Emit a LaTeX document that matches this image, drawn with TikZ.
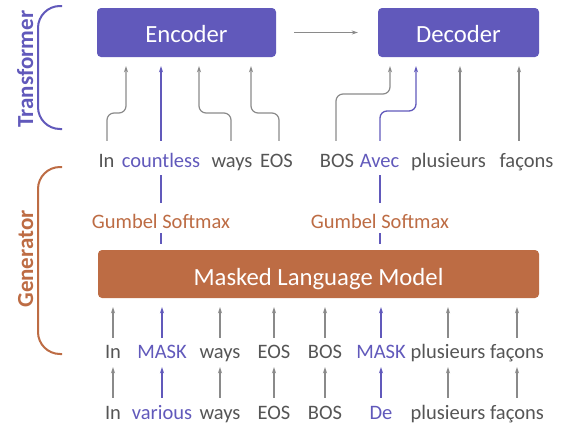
\documentclass[tikz,border=0pt]{standalone}
\usepackage{fontspec}
\setmainfont{Carlito}
\usetikzlibrary{arrows.meta}
\definecolor{purp}{RGB}{97,89,187}
\definecolor{orng}{RGB}{189,108,68}
\definecolor{lgray}{RGB}{138,138,138}
\definecolor{tgray}{RGB}{85,85,85}
\begin{document}
\begin{tikzpicture}[x=1pt,y=-1pt,
  tok/.style={anchor=base,inner sep=0pt,text height=14pt,text depth=4pt,
    font=\fontsize{20.5}{24}\selectfont,text=tgray},
  ptok/.style={tok,text=purp},
  bigbox/.style={rounded corners=4pt,inner sep=0pt,text=white,
    font=\fontsize{24.7}{28}\selectfont,text depth=0pt},
  tip/.style={-{Stealth[length=6pt,width=4pt]}},
  garr/.style={draw=lgray,line width=1.2pt,tip},
  parr/.style={draw=purp,line width=1.3pt,tip},
  pline/.style={draw=purp,line width=1.3pt},
  gum/.style={anchor=base,fill=white,inner xsep=1pt,inner ysep=0pt,
    text height=25pt,text depth=5pt,text=orng,font=\fontsize{20.5}{24}\selectfont},
  side/.style={anchor=base,rotate=90,inner sep=0pt,font=\fontsize{23}{26}\selectfont\bfseries},
  brace/.style={line width=2pt,rounded corners=22pt}
]
\useasboundingbox (0,0) rectangle (563,426);

% boxes
\node[bigbox,fill=purp,minimum width=179pt,minimum height=49pt,text height=19pt] (enc) at (186.5,32.5) {Encoder};
\node[bigbox,fill=purp,minimum width=161pt,minimum height=49pt,text height=19pt] (dec) at (458.5,32.5) {Decoder};
\node[bigbox,fill=orng,minimum width=441pt,minimum height=48pt,text height=22pt] (mlm) at (318.5,274) {Masked Language Model};

\draw[garr,shorten <=18pt,shorten >=20pt] (enc.east) -- (dec.west);

% side labels and braces
\node[side,text=purp] (tlab) at (33,69) {Transformer};
\node[side,text=orng] (glab) at (33,259) {Generator};
\draw[brace,draw=purp] (62,6) -- (38,6) -- (38,129) -- (62,129);
\draw[brace,draw=orng] (62,167) -- (38,167) -- (38,354) -- (62,354);

% top row
\node[tok] (tIn) at (106.5,167) {In};
\node[ptok] (tCo) at (161,167) {countless};
\node[tok] (tWa) at (232,167) {ways};
\node[tok] (tEo) at (276.5,167) {EOS};
\node[tok] (tBo) at (337,167) {BOS};
\node[ptok] (tAv) at (379.5,167) {Avec};
\node[tok] (tPl) at (448.5,167) {plusieurs};
\node[tok] (tFa) at (526.5,167) {façons};

% top row -> encoder / decoder
\begin{scope}[shorten >=9pt]
\draw[garr,rounded corners=7pt] (tIn.north) ++(0.5,-12) |- (126,113) -- (enc.south -| 126,0);
\draw[parr] (tCo.north) ++(0,-12) -- (enc.south -| 161,0);
\draw[garr,rounded corners=7pt] (tWa.north) ++(-1,-12) |- (199,113) -- (enc.south -| 199,0);
\draw[garr,rounded corners=7pt] (tEo.north) ++(2.5,-12) |- (251,113) -- (enc.south -| 251,0);
\draw[garr,rounded corners=7pt] (tBo.north) ++(-1,-12) |- (390,94) -- (dec.south -| 390,0);
\draw[parr,rounded corners=7pt] (tAv.north) ++(0.5,-12) |- (416,111) -- (dec.south -| 416,0);
\draw[garr] (tPl.north) ++(11.5,-12) -- (dec.south -| 460,0);
\draw[garr] (tFa.north) ++(-7.5,-12) -- (dec.south -| 519,0);
\end{scope}

% gumbel softmax
\draw[pline,shorten <=6pt,shorten >=4pt] (mlm.north -| tCo.south) -- (tCo.south);
\draw[pline,shorten <=6pt,shorten >=4pt] (mlm.north -| 380,0) -- (380,171);
\node[gum] (g1) at (161,228) {Gumbel Softmax};
\node[gum] (g2) at (380,228) {Gumbel Softmax};

% row 2
\node[tok] (mIn) at (113,358) {In};
\node[ptok] (mMa) at (162,358) {MASK};
\node[tok] (mWa) at (220,358) {ways};
\node[tok] (mEo) at (274,358) {EOS};
\node[tok] (mBo) at (325,358) {BOS};
\node[ptok] (mMb) at (381,358) {MASK};
\node[tok] (mPl) at (448,358) {plusieurs};
\node[tok] (mFa) at (517,358) {façons};

% row 3
\node[tok] (bIn) at (113,419) {In};
\node[ptok] (bVa) at (162,419) {various};
\node[tok] (bWa) at (220,419) {ways};
\node[tok] (bEo) at (274,419) {EOS};
\node[tok] (bBo) at (325,419) {BOS};
\node[ptok] (bDe) at (381,419) {De};
\node[tok] (bPl) at (448,419) {plusieurs};
\node[tok] (bFa) at (517,419) {façons};

\begin{scope}[shorten <=6pt,shorten >=9pt]
\foreach \n/\s in {mIn/garr,mMa/parr,mWa/garr,mEo/garr,mBo/garr,mMb/parr,mPl/garr,mFa/garr}
  \draw[\s] (\n.north) -- (mlm.south -| \n.north);
\end{scope}
\begin{scope}[shorten <=7pt,shorten >=5pt]
\foreach \a/\b/\s in {bIn/mIn/garr,bVa/mMa/parr,bWa/mWa/garr,bEo/mEo/garr,bBo/mBo/garr,bDe/mMb/parr,bPl/mPl/garr,bFa/mFa/garr}
  \draw[\s] (\a.north) -- (\b.south);
\end{scope}
\end{tikzpicture}
\end{document}
